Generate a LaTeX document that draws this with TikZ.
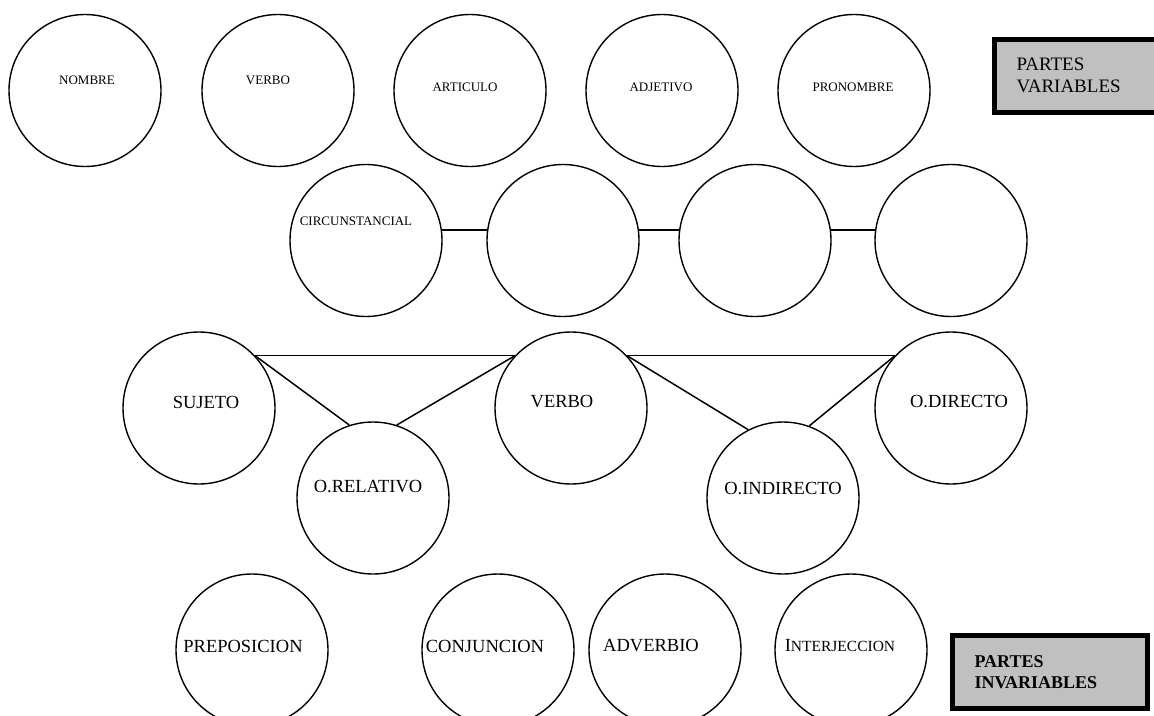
\documentclass[tikz,border=0pt]{standalone}
\usepackage{fontspec}
\setmainfont{Liberation Serif}
\usepackage{xcolor}
\definecolor{gris}{RGB}{192,192,192}

\begin{document}
\begin{tikzpicture}[x=1pt, y=-1pt,
    parte/.style={circle, draw, line width=1.4pt, minimum size=152pt, inner sep=0pt},
    chica/.style={font=\fontsize{13}{15}\selectfont},
    grande/.style={font=\fontsize{18.5}{21}\selectfont},
    caja/.style={draw, line width=5pt, fill=gris, minimum height=73pt, text width=151pt, inner xsep=22pt, align=left},
    lazo/.style={line width=1.5pt}
]
    \clip (0,0) rectangle (1154,715);

    \node[parte, label={[chica, xshift=2pt, yshift=10.5pt]center:NOMBRE}] (nombre) at (85,90.5) {};
    \node[parte, label={[chica, xshift=-10pt, yshift=10.5pt]center:VERBO}] (verbo) at (278,90.5) {};
    \node[parte, label={[chica, xshift=-5pt, yshift=3.5pt]center:ARTICULO}] (articulo) at (470,90.5) {};
    \node[parte, label={[chica, xshift=-1pt, yshift=3.5pt]center:ADJETIVO}] (adjetivo) at (662,90.5) {};
    \node[parte, label={[chica, xshift=-1pt, yshift=3.5pt]center:PRONOMBRE}] (pronombre) at (854,90.5) {};
    \node[caja, font=\fontsize{19}{22}\selectfont] (variables) at (1092,75.5) {PARTES\\VARIABLES};

    \node[parte, label={[chica, xshift=-10pt, yshift=19.5pt]center:CIRCUNSTANCIAL}] (circ1) at (366,240.5) {};
    \node[parte] (circ2) at (563,240.5) {};
    \node[parte] (circ3) at (755,240.5) {};
    \node[parte] (circ4) at (951,240.5) {};

    \draw[lazo] (circ1.8) -- (circ2.172);
    \draw[lazo] (circ2.8) -- (circ3.172);
    \draw[lazo] (circ3.8) -- (circ4.172);

    \node[parte, label={[grande, xshift=7pt, yshift=6pt]center:SUJETO}] (sujeto) at (199,408) {};
    \node[parte, label={[grande, xshift=-9pt, yshift=6pt]center:VERBO}] (verbo2) at (571,408) {};
    \node[parte, label={[grande, xshift=8pt, yshift=6pt]center:O.DIRECTO}] (directo) at (951,408) {};
    \node[parte, label={[grande, xshift=-5pt, yshift=11pt]center:O.RELATIVO}] (relativo) at (373,498) {};
    \node[parte, label={[grande, yshift=10pt]center:O.INDIRECTO}] (indirecto) at (783,498) {};

    \draw[lazo] (sujeto.43) -- (verbo2.137);
    \draw[lazo] (verbo2.43) -- (directo.137);
    \draw[lazo] (sujeto.43) -- (relativo.108);
    \draw[lazo] (verbo2.137) -- (relativo.72);
    \draw[lazo] (verbo2.43) -- (indirecto.117);
    \draw[lazo] (directo.137) -- (indirecto.70);

    \node[parte, label={[grande, xshift=-9pt, yshift=4pt]center:PREPOSICION}] (preposicion) at (252,650) {};
    \node[parte, label={[grande, xshift=-13pt, yshift=4pt]center:CONJUNCION}] (conjuncion) at (498,650) {};
    \node[parte, label={[grande, xshift=-14pt, yshift=4pt]center:ADVERBIO}] (adverbio) at (665,650) {};
    \node[parte, label={[grande, xshift=-11pt, yshift=4pt]center:I{\fontsize{15.5}{17}\selectfont NTERJECCION}}] (interjeccion) at (851,650) {};
    \node[caja, font=\fontsize{18}{21}\selectfont\bfseries] (invariables) at (1050,672) {PARTES\\INVARIABLES};
\end{tikzpicture}
\end{document}
